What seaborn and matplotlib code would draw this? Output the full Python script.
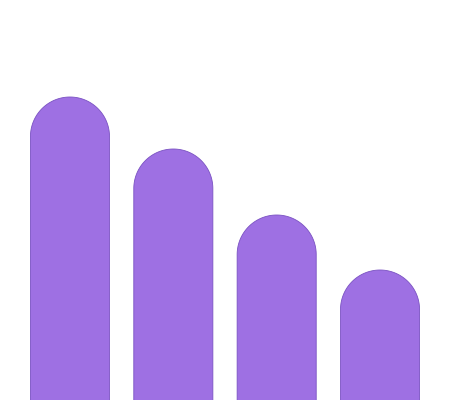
import matplotlib
matplotlib.use("Agg")
import matplotlib.pyplot as plt
from matplotlib.patches import Polygon
import numpy as np
import pandas as pd
import seaborn as sns

# bar heights (chart units, baseline at the bottom edge)
categories = ["A", "B", "C", "D"]
values = [303, 251, 185, 130]

bar_color = "#9E70E3"
edge_color = "#7A52C2"

df = pd.DataFrame({"category": categories, "value": values})

fig = plt.figure(figsize=(4.5, 4), dpi=100)
ax = fig.add_axes([0, 0, 1, 1])

sns.barplot(data=df, x="category", y="value", color=bar_color, width=0.765,
            saturation=1, ax=ax)

ax.set_xlim(-0.677, 3.677)
ax.set_ylim(0, 400)
ax.axis("off")

# swap the plain bars for ones with a semicircular top
px_per_x = ax.transData.transform((1, 0))[0] - ax.transData.transform((0, 0))[0]
px_per_y = ax.transData.transform((0, 1))[1] - ax.transData.transform((0, 0))[1]
t = np.linspace(0, np.pi, 80)

for patch in list(ax.patches):
    x, w, h = patch.get_x(), patch.get_width(), patch.get_height()
    patch.remove()
    rx = w / 2
    ry = rx * px_per_x / px_per_y
    cx = x + rx
    arc = [(cx + rx * np.cos(a), h - ry + ry * np.sin(a)) for a in t]
    verts = [(x + w, -5)] + arc + [(x, -5)]
    ax.add_patch(Polygon(verts, closed=True, facecolor=bar_color,
                         edgecolor=edge_color, linewidth=0.6))

plt.savefig("out.png", dpi=100)
plt.close()
